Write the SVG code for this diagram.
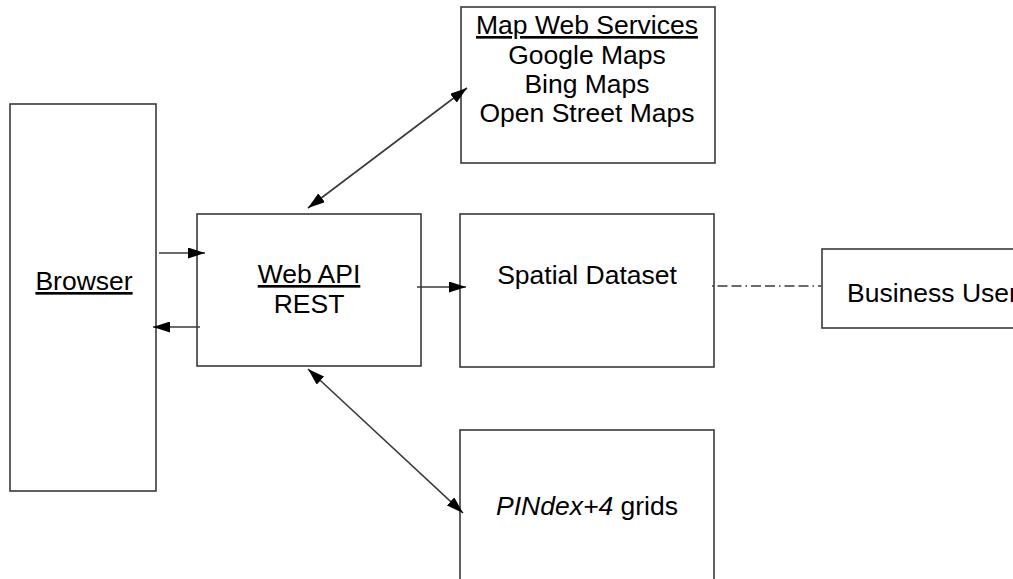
<svg xmlns="http://www.w3.org/2000/svg" width="1013" height="579" viewBox="0 0 1013 579">
<style>
.box{fill:#fff;stroke:#3a3a3a;stroke-width:1.6}
.t{font-family:"Liberation Sans",Arial,sans-serif;font-size:26.5px;fill:#000}
.c{text-anchor:middle}
.u{text-decoration:underline}
.ln{stroke:#3a3a3a;stroke-width:1.6;fill:none}
</style>
<defs>
<marker id="ah" viewBox="0 0 17 11" refX="17" refY="5.5" markerWidth="17" markerHeight="11" markerUnits="userSpaceOnUse" orient="auto-start-reverse">
<path d="M0,0 L17,5.5 L0,11 Z" fill="#000"/>
</marker>
</defs>
<rect width="1013" height="579" fill="#fff"/>
<g id="browser">
<rect class="box" x="10" y="104" width="146" height="387"/>
<text class="t c u" x="84" y="290">Browser</text>
</g>
<g id="webapi">
<rect class="box" x="197" y="214" width="224" height="152"/>
<text class="t c u" x="309" y="283">Web API</text>
<text class="t c" x="309" y="313">REST</text>
</g>
<g id="mapservices">
<rect class="box" x="461" y="7" width="254" height="156"/>
<text class="t c u" x="587" y="34">Map Web Services</text>
<text class="t c" x="587" y="64">Google Maps</text>
<text class="t c" x="587" y="93">Bing Maps</text>
<text class="t c" x="587" y="122">Open Street Maps</text>
</g>
<g id="spatial">
<rect class="box" x="460" y="214" width="254" height="153"/>
<text class="t c" x="587" y="284">Spatial Dataset</text>
</g>
<g id="businessuser">
<rect class="box" x="822" y="249" width="200" height="79"/>
<text class="t" x="847" y="302">Business User</text>
</g>
<g id="pindex">
<rect class="box" x="460" y="430" width="254" height="170"/>
<text class="t c" x="587" y="515"><tspan font-style="italic">PINdex+4</tspan> grids</text>
</g>
<g id="connectors">
<line class="ln" x1="159" y1="253" x2="205" y2="253" marker-end="url(#ah)"/>
<line class="ln" x1="200" y1="327" x2="153" y2="327" marker-end="url(#ah)"/>
<line class="ln" x1="417" y1="287" x2="466" y2="287" marker-end="url(#ah)"/>
<line class="ln" x1="308" y1="208" x2="467" y2="88" marker-start="url(#ah)" marker-end="url(#ah)"/>
<line class="ln" x1="308" y1="369" x2="463" y2="513" marker-start="url(#ah)" marker-end="url(#ah)"/>
<line class="ln" x1="712" y1="286" x2="821" y2="286" stroke-dasharray="1.5 4 10 4 10 4"/>
</g>
</svg>
